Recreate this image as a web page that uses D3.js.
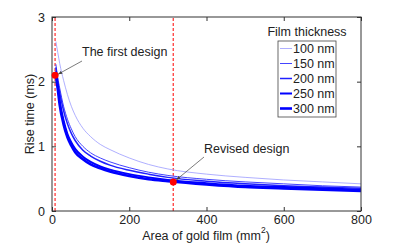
<!DOCTYPE html>
<html>
<head>
<meta charset="utf-8">
<script src="https://cdn.jsdelivr.net/npm/d3@7"></script>
<style>
  body { margin: 0; background: #fff; }
  text { font-family: "Liberation Sans", Arial, sans-serif; font-size: 12.5px; fill: #222; }
</style>
</head>
<body>
<svg id="chart" width="399" height="244"></svg>
<script>
// gold film area (mm^2)
const areas = [10, 15, 20, 30, 40, 50, 60, 80, 100, 125, 150, 200, 250, 300, 400, 500, 600, 700, 800];

// rise time (ms) for each film thickness
const rise100 = [2.62, 2.45, 2.28, 2.02, 1.8, 1.62, 1.48, 1.28, 1.15, 1.03, 0.95, 0.82, 0.72, 0.65, 0.57, 0.52, 0.48, 0.45, 0.42];
const rise150 = [2.27, 2.06, 1.9, 1.62, 1.42, 1.27, 1.15, 1.0, 0.9, 0.82, 0.76, 0.67, 0.6, 0.55, 0.49, 0.45, 0.42, 0.39, 0.37];
const rise200 = [2.22, 2.0, 1.83, 1.55, 1.35, 1.2, 1.09, 0.94, 0.85, 0.77, 0.71, 0.63, 0.57, 0.52, 0.46, 0.42, 0.39, 0.37, 0.35];
const rise250 = [2.16, 1.94, 1.7, 1.4, 1.19, 1.06, 0.96, 0.84, 0.76, 0.69, 0.64, 0.57, 0.52, 0.48, 0.43, 0.39, 0.37, 0.35, 0.33];
const rise300 = [2.1, 1.88, 1.64, 1.34, 1.14, 1.01, 0.91, 0.8, 0.72, 0.66, 0.61, 0.54, 0.49, 0.46, 0.41, 0.37, 0.35, 0.33, 0.31];

const thicknessLabels = ['100 nm', '150 nm', '200 nm', '250 nm', '300 nm'];
const seriesValues = [rise100, rise150, rise200, rise250, rise300];

const xTicks = [0, 200, 400, 600, 800];
const yTicks = [0, 1, 2, 3];

// design points
const designs = [
  {name: 'The first design', area: 8, rise: 2.1},
  {name: 'Revised design', area: 314, rise: 0.45}
];

const lineColors = ['#9a9aff', '#4444ff', '#2020ff', '#0000ff', '#0000ff'];
const lineWidths = [0.8, 1, 1.5, 2, 2.6];

const svg = d3.select('#chart');
const mLeft = 52, mRight = 361, mTop = 17, mBottom = 211;

const x = d3.scaleLinear().domain([0, 800]).range([mLeft, mRight]);
const y = d3.scaleLinear().domain([0, 3]).range([mBottom, mTop]);

// dashed design lines (under curves)
svg.selectAll('.vline')
  .data(designs)
  .enter().append('line')
  .attr('x1', d => x(d.area)).attr('x2', d => x(d.area))
  .attr('y1', mBottom).attr('y2', mTop)
  .attr('stroke', '#ff4a4a')
  .attr('stroke-width', 1.4)
  .attr('stroke-dasharray', '3,2');

const line = d3.line()
  .x(d => x(d[0]))
  .y(d => y(d[1]))
  .curve(d3.curveMonotoneX);

seriesValues.forEach((vals, i) => {
  svg.append('path')
    .datum(areas.map((a, j) => [a, vals[j]]))
    .attr('fill', 'none')
    .attr('stroke', lineColors[i])
    .attr('stroke-width', lineWidths[i])
    .attr('d', line);
});

// box + ticks
svg.append('rect')
  .attr('x', mLeft).attr('y', mTop)
  .attr('width', mRight - mLeft).attr('height', mBottom - mTop)
  .attr('fill', 'none').attr('stroke', '#333').attr('stroke-width', 1);

const xAxis = svg.append('g').attr('transform', `translate(0,${mBottom})`)
  .call(d3.axisBottom(x).tickValues(xTicks).tickSize(-4).tickPadding(4).tickFormat(d3.format('d')));
const xAxisTop = svg.append('g').attr('transform', `translate(0,${mTop})`)
  .call(d3.axisTop(x).tickValues(xTicks).tickSize(-4).tickFormat(''));
const yAxis = svg.append('g').attr('transform', `translate(${mLeft},0)`)
  .call(d3.axisLeft(y).tickValues(yTicks).tickSize(-4).tickPadding(7).tickFormat(d3.format('d')));
const yAxisRight = svg.append('g').attr('transform', `translate(${mRight},0)`)
  .call(d3.axisRight(y).tickValues(yTicks).tickSize(-4).tickFormat(''));

[xAxis, xAxisTop, yAxis, yAxisRight].forEach(g => {
  g.select('.domain').remove();
  g.selectAll('.tick line').attr('stroke', '#333');
  g.selectAll('.tick text').style('font-size', '12.5px').attr('fill', '#222')
    .style('font-family', '"Liberation Sans", Arial, sans-serif');
});

// x axis title, superscript drawn as its own text so boxes do not overlap
const xt1 = svg.append('text').attr('y', 239.5).text('Area of gold film (mm');
const xt2 = svg.append('text').attr('y', 232.5).style('font-size', '8.5px').text('2');
const xt3 = svg.append('text').attr('y', 239.5).text(')');
const w1 = xt1.node().getComputedTextLength();
const w2 = xt2.node().getComputedTextLength();
const w3 = xt3.node().getComputedTextLength();
const xtStart = 206 - (w1 + w2 + w3) / 2;
xt1.attr('x', xtStart);
xt2.attr('x', xtStart + w1);
xt3.attr('x', xtStart + w1 + w2);

svg.append('text')
  .attr('transform', 'translate(34,114) rotate(-90)')
  .attr('text-anchor', 'middle')
  .text('Rise time (ms)');

// design markers
svg.selectAll('.dot')
  .data(designs)
  .enter().append('circle')
  .attr('cx', d => x(d.area)).attr('cy', d => y(d.rise))
  .attr('r', 3.5)
  .attr('fill', '#ff0000');

// annotations with arrows
svg.append('defs').append('marker')
  .attr('id', 'arr')
  .attr('viewBox', '0 0 10 10')
  .attr('refX', 10).attr('refY', 5)
  .attr('markerWidth', 6).attr('markerHeight', 6)
  .attr('orient', 'auto')
  .append('path').attr('d', 'M0,1 L10,5 L0,9 Z').attr('fill', '#444');

const notes = [
  {tx: 82, ty: 56, ax: 82, ay: 61, dx: 3, dy: -1},
  {tx: 204, ty: 153, ax: 204, ay: 157, dx: 3, dy: -2}
];
designs.forEach((d, i) => {
  const n = notes[i];
  svg.append('text').attr('x', n.tx).attr('y', n.ty).text(d.name);
  svg.append('line')
    .attr('x1', n.ax).attr('y1', n.ay)
    .attr('x2', x(d.area) + n.dx).attr('y2', y(d.rise) + n.dy)
    .attr('stroke', '#444').attr('stroke-width', 0.7)
    .attr('marker-end', 'url(#arr)');
});

// legend
const lgX = 278, lgY = 41;
svg.append('text')
  .attr('x', 307).attr('y', 36)
  .attr('text-anchor', 'middle')
  .text('Film thickness');
svg.append('rect')
  .attr('x', lgX).attr('y', lgY)
  .attr('width', 58).attr('height', 76)
  .attr('fill', '#fff').attr('stroke', '#444').attr('stroke-width', 0.8);

thicknessLabels.forEach((lab, i) => {
  const cy = lgY + 7.5 + i * 15;
  svg.append('line')
    .attr('x1', lgX + 2).attr('x2', lgX + 14)
    .attr('y1', cy).attr('y2', cy)
    .attr('stroke', lineColors[i]).attr('stroke-width', lineWidths[i]);
  svg.append('text')
    .attr('x', lgX + 15).attr('y', cy)
    .attr('dy', '0.35em')
    .text(lab);
});
</script>
</body>
</html>
